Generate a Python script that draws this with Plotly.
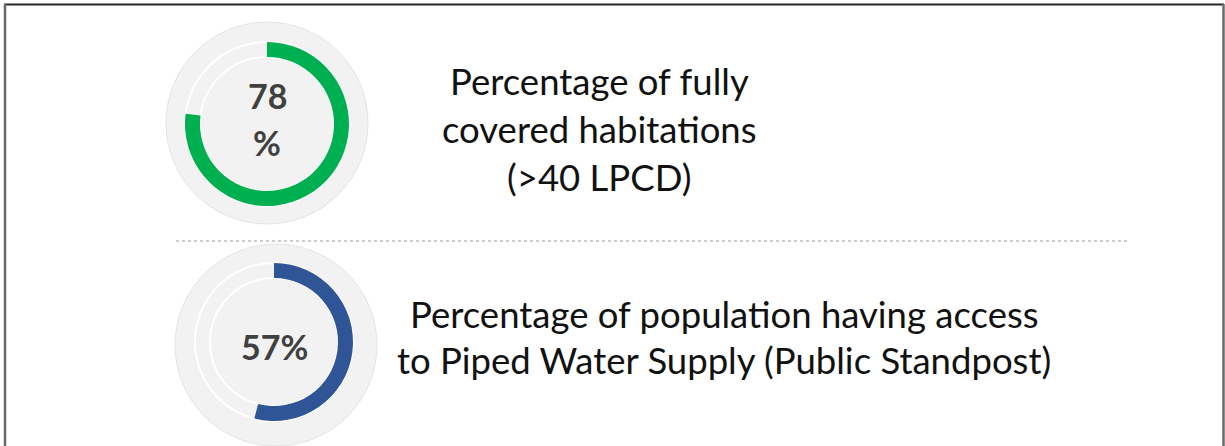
import plotly.graph_objects as go

# ---------------- data ----------------
label_values = [78, 57]                       # percent shown as text
arc_values = [77, 54]                         # arc extent as drawn in the picture (percent)
metric_colors = ["#00b050", "#2f5597"]
center_lines = [["78", "%"], ["57%"]]
descriptions = [
    ["Percentage of fully", "covered habitations", "(>40 LPCD)"],
    ["Percentage of population having access", "to Piped Water Supply (Public Standpost)"],
]

# ---------------- layout (page pixels) ----------------
W, H = 1225, 446
ring_centers = [(267, 124), (274, 342)]
disk_centers = [(267, 123), (276, 345)]
disk_r = 101
ring_outer = [82, 79]
ring_inner = [67, 64]
center_text_y = [[95, 142], [346]]
desc_x = [599, 724]
desc_y = [[81, 129, 177], [314, 360]]


def px(x):
    return x / W


def py(y):
    return 1 - y / H


fig = go.Figure()
shapes = []
annotations = []

for i, val in enumerate(arc_values):
    cx, cy = ring_centers[i]
    dx, dy = disk_centers[i]
    ro, ri = ring_outer[i], ring_inner[i]
    # background disk
    shapes.append(dict(type="circle", xref="paper", yref="paper", layer="below",
                       x0=px(dx - disk_r), x1=px(dx + disk_r),
                       y0=py(dy + disk_r), y1=py(dy - disk_r),
                       fillcolor="#f2f2f2", line=dict(color="#e4e4e4", width=1)))
    # white track outlines
    for r in (ro, ri):
        shapes.append(dict(type="circle", xref="paper", yref="paper", layer="below",
                           x0=px(cx - r), x1=px(cx + r),
                           y0=py(cy + r), y1=py(cy - r),
                           line=dict(color="#ffffff", width=2)))
    fig.add_trace(go.Pie(
        values=[val, 100 - val],
        marker=dict(colors=[metric_colors[i], "rgba(0,0,0,0)"], line=dict(width=0)),
        hole=ri / ro,
        sort=False, direction="clockwise", rotation=0,
        textinfo="none", hoverinfo="skip", showlegend=False,
        domain=dict(x=[px(cx - ro), px(cx + ro)], y=[py(cy + ro), py(cy - ro)]),
    ))
    for line, yy in zip(center_lines[i], center_text_y[i]):
        annotations.append(dict(text=f"<b>{line}</b>", x=px(cx), y=py(yy),
                                xref="paper", yref="paper", showarrow=False,
                                xanchor="center", yanchor="middle",
                                font=dict(family="Lato", size=34, color="#404040")))
    for line, yy in zip(descriptions[i], desc_y[i]):
        annotations.append(dict(text=line, x=px(desc_x[i]), y=py(yy),
                                xref="paper", yref="paper", showarrow=False,
                                xanchor="center", yanchor="middle",
                                font=dict(family="Lato", size=36.5, color="#111111")))

# divider
shapes.append(dict(type="line", xref="paper", yref="paper",
                   x0=px(176), x1=px(1127), y0=py(241), y1=py(241),
                   line=dict(color="#cccccc", width=2, dash="dot")))
# frame (open at the bottom): dark top edge, grey sides
shapes.append(dict(type="line", xref="paper", yref="paper",
                   x0=px(4), x1=px(1224), y0=py(4.5), y1=py(4.5),
                   line=dict(color="#262626", width=2)))
for xx in (5, 1223.5):
    shapes.append(dict(type="line", xref="paper", yref="paper",
                       x0=px(xx), x1=px(xx), y0=py(4), y1=py(470),
                       line=dict(color="#6a6a6a", width=2.5)))

fig.update_layout(width=W, height=H, margin=dict(l=0, r=0, t=0, b=0),
                  paper_bgcolor="white", plot_bgcolor="white",
                  shapes=shapes, annotations=annotations)
fig.write_html(
    "out.html",
    config={"displayModeBar": False},
    post_script="document.body.style.margin='0px';document.body.style.overflow='hidden';",
)
